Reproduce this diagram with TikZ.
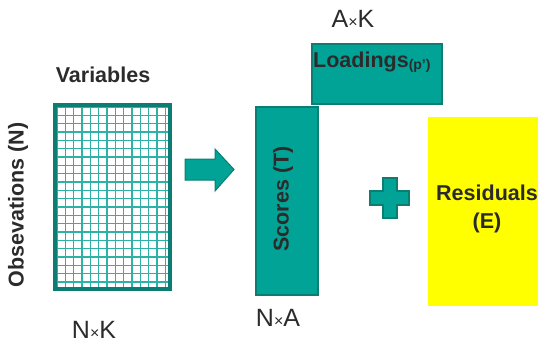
\documentclass[tikz,border=0pt]{standalone}
\usepackage{fontspec}
\setmainfont{Liberation Sans}
\definecolor{tealfill}{HTML}{00A396}
\definecolor{tealdark}{HTML}{0B7D72}
\definecolor{gridline}{HTML}{2DB3A5}
\definecolor{txt}{HTML}{2B2B2B}
\definecolor{resid}{HTML}{FFFF00}
\tikzset{
  boldlbl/.style={text=txt, font=\fontsize{21.5}{28}\selectfont\bfseries, inner sep=0pt, align=center},
  dimlbl/.style={text=txt, font=\fontsize{25}{28}\selectfont, inner sep=0pt},
  tealbox/.style={fill=tealfill, draw=tealdark, line width=1.2pt},
}
\newcommand{\smx}{{\fontsize{16}{16}\selectfont ×}}
\begin{document}
\begin{tikzpicture}[x=1pt,y=-1pt]
\useasboundingbox (0,0) rectangle (538,345);
% data matrix with grid
\begin{scope}
  \clip (57,107) rectangle (168,287);
  \foreach \i in {0,...,14} \draw[gridline, line width=1.2pt] ({57+8.33*\i},107) -- ({57+8.33*\i},287);
  \foreach \j in {0,...,22} \draw[gridline, line width=1.2pt] (57,{107+8.33*\j}) -- (168,{107+8.33*\j});
\end{scope}
\node[draw=tealdark, line width=4pt, minimum width=115pt, minimum height=184pt, inner sep=0pt] (X) at (112.5,197) {};
\node[boldlbl] (var) at (103,75) {Variables};
\node[boldlbl, rotate=90] (obs) at (18,205) {Obsevations (N)};
\node[dimlbl] (nk) at (94,330) {N\smx K};
% arrow
\draw[tealbox, line width=1pt] (185,159) -- (215,159) -- (215,149) -- (234,169.5) -- (215,191) -- (215,180) -- (185,180) -- cycle;
% scores
\draw[tealbox] (256,107) rectangle (318,295);
\node[boldlbl, rotate=90] (sc) at (283,199) {Scores (T)};
\node[dimlbl] (na) at (278,318) {N\smx A};
% loadings
\draw[tealbox] (312,44) rectangle (442,104);
\node[boldlbl, anchor=west] (ld) at (313,62) {Loadings\raisebox{-1.5pt}{\fontsize{14}{14}\selectfont(p')}};
\node[dimlbl] (ak) at (353,19) {A\smx K};
% plus
\draw[tealbox] (383,178) -- (397,178) -- (397,191) -- (409,191) -- (409,205) -- (397,205) -- (397,218) -- (383,218) -- (383,205) -- (370,205) -- (370,191) -- (383,191) -- cycle;
% residuals
\fill[resid] (428,117) rectangle (538,306);
\node[boldlbl] (res) at (487,209) {Residuals\\(E)};
\end{tikzpicture}
\end{document}
